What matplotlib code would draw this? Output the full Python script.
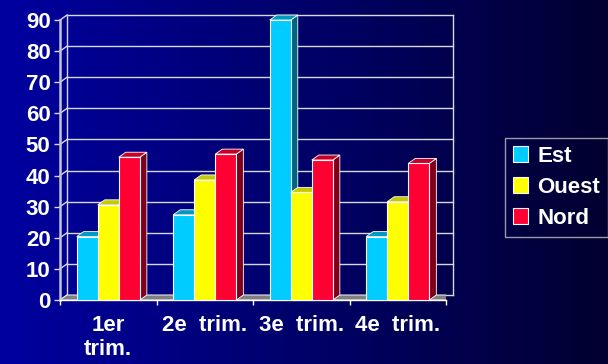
import matplotlib.pyplot as plt
import numpy as np
from matplotlib.colors import LinearSegmentedColormap
from matplotlib.patches import Polygon

plt.rcParams["font.family"] = ["Liberation Sans", "DejaVu Sans"]
plt.rcParams["font.weight"] = "bold"

# Quarterly figures per region
quarters = ["1er trim.", "2e trim.", "3e trim.", "4e trim."]
tick_labels = ["1er\ntrim.", "2e  trim.", "3e  trim.", "4e  trim."]
est = [20.4, 27.4, 90, 20.4]
ouest = [30.6, 38.6, 34.6, 31.6]
nord = [45.9, 46.9, 45, 43.9]
series_names = ["Est", "Ouest", "Nord"]
y_ticks = [0, 10, 20, 30, 40, 50, 60, 70, 80, 90]

# front / top / side shades for each series
shades = {
    "Est": ("#00CCFF", "#0099BF", "#006680"),
    "Ouest": ("#FFFF00", "#C8C800", "#808000"),
    "Nord": ("#FF0033", "#C80028", "#80001A"),
}

BAR_W = 0.218
DX, DY = 0.073, 1.6  # depth of the 3D effect in data units
GRID = "#d8d8e4"
FS = 16

fig = plt.figure(figsize=(6.08, 3.64), dpi=100)

# horizontal blue-to-black background
bg = fig.add_axes([0, 0, 1, 1])
cmap = LinearSegmentedColormap.from_list("bg", ["#0000A0", "#00006A", "#020030"])
bg.imshow(np.linspace(0, 1, 256)[None, :], aspect="auto", cmap=cmap,
          extent=[0, 1, 0, 1])
bg.axis("off")

ax = fig.add_axes([60 / 608, 64 / 364, 386 / 608, 280 / 364])
n = len(quarters)
ax.set_xlim(0, n)
ax.set_ylim(0, y_ticks[-1])
ax.patch.set_visible(False)
for sp in ax.spines.values():
    sp.set_visible(False)

# back wall, left wall and floor
top = y_ticks[-1]
for v in y_ticks:
    ax.plot([DX, n + DX], [v + DY, v + DY], color=GRID, lw=1, clip_on=False, zorder=1)
    ax.plot([0, DX], [v, v + DY], color=GRID, lw=1, clip_on=False, zorder=1)
ax.plot([DX, DX], [DY, top + DY], color=GRID, lw=1, clip_on=False, zorder=1)
ax.plot([n + DX, n + DX], [DY, top + DY], color=GRID, lw=1, clip_on=False, zorder=1)
floor = Polygon([(0, 0), (n, 0), (n + DX, DY), (DX, DY)], closed=True,
                facecolor="#808080", edgecolor="white", lw=0.6, zorder=2)
ax.add_patch(floor)
ax.plot([0, 0], [0, top], color="#c4c4d4", lw=1.8, clip_on=False, zorder=2)
ax.plot([0, n], [0, 0], color="white", lw=1, clip_on=False, zorder=2)

# bars with side and top faces
idx = np.arange(n)
handles = []
for s, (name, vals) in enumerate(zip(series_names, [est, ouest, nord])):
    front, top_c, side_c = shades[name]
    x_left = idx + 0.5 + (s - 1.5) * BAR_W
    bars = ax.bar(x_left, vals, width=BAR_W, align="edge", color=front,
                  edgecolor="white", lw=0.8, label=name)
    handles.append(bars)
    for g, (rect, v) in enumerate(zip(bars, vals)):
        z = 3 + g + s * 0.1
        rect.set_zorder(z + 0.05)
        xl = x_left[g]
        xr = xl + BAR_W
        ax.add_patch(Polygon([(xr, 0), (xr + DX, DY), (xr + DX, v + DY), (xr, v)],
                             closed=True, facecolor=side_c, edgecolor="white",
                             lw=0.6, zorder=z, clip_on=False))
        ax.add_patch(Polygon([(xl, v), (xr, v), (xr + DX, v + DY), (xl + DX, v + DY)],
                             closed=True, facecolor=top_c, edgecolor="white",
                             lw=0.6, zorder=z, clip_on=False))

# axes ticks and labels
ax.set_yticks(y_ticks)
ax.set_yticklabels([str(v) for v in y_ticks])
ax.tick_params(axis="y", direction="out", length=4.3, width=1, color=GRID,
               pad=2.5, labelsize=FS, labelcolor="white")
ax.set_xticks(range(n + 1))
ax.set_xticklabels([""] * (n + 1))
ax.tick_params(axis="x", which="major", direction="out", length=3.6, width=1,
               color="white")
ax.set_xticks(idx + 0.5, minor=True)
ax.set_xticklabels(tick_labels, minor=True, linespacing=1.15)
ax.tick_params(axis="x", which="minor", length=0, pad=11, labelsize=FS,
               labelcolor="white")

leg = fig.legend(handles, series_names, loc="upper left",
                 bbox_to_anchor=(505 / 608, 1 - 138 / 364), frameon=True,
                 fancybox=False, facecolor="none", edgecolor="#c0c0c0",
                 prop={"size": FS, "weight": "bold"}, labelcolor="white",
                 handlelength=0.7, handleheight=0.7, handletextpad=0.4,
                 borderpad=0.35, labelspacing=0.45, borderaxespad=0)

fig.savefig("out.png", dpi=100)
